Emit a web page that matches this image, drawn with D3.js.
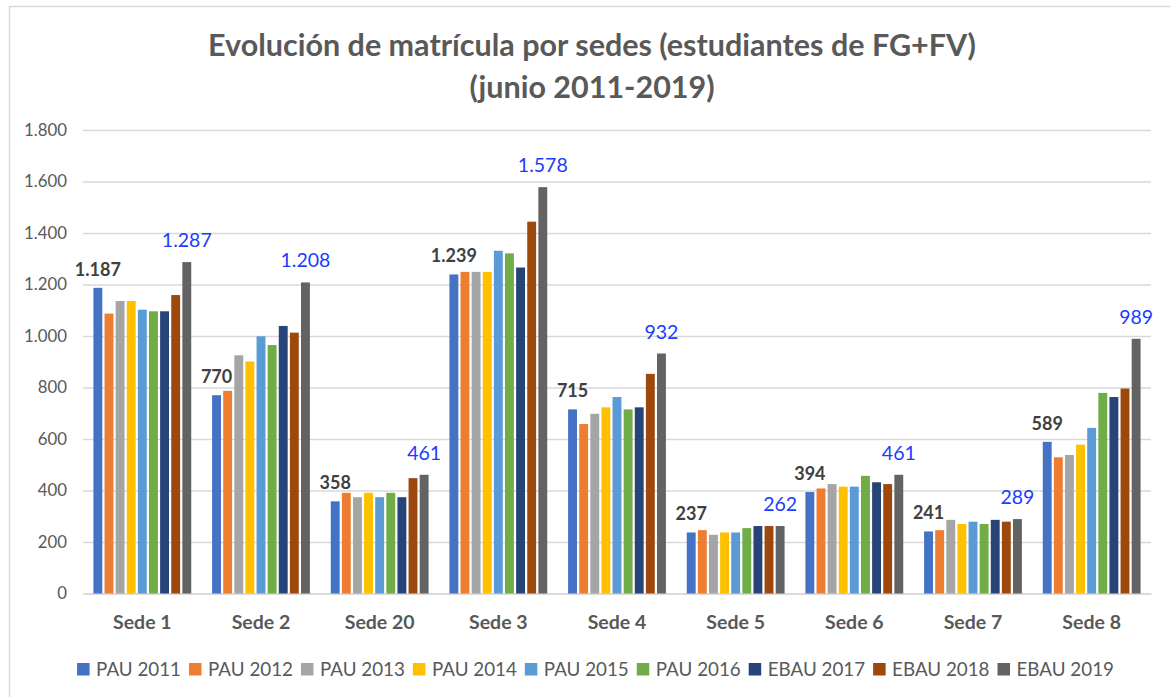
<!DOCTYPE html>
<html>
<head>
<meta charset="utf-8">
<script src="https://cdn.jsdelivr.net/npm/d3@7"></script>
<style>
  html, body { margin: 0; padding: 0; background: #fff; }
  svg { display: block; font-family: Lato, "Open Sans", sans-serif; }
</style>
</head>
<body>
<svg id="chart" width="1170" height="697"></svg>
<script>
const sedes = ["Sede 1", "Sede 2", "Sede 20", "Sede 3", "Sede 4", "Sede 5", "Sede 6", "Sede 7", "Sede 8"];
const series = ["PAU 2011", "PAU 2012", "PAU 2013", "PAU 2014", "PAU 2015", "PAU 2016", "EBAU 2017", "EBAU 2018", "EBAU 2019"];
const colors = ["#4472C4", "#ED7D31", "#A5A5A5", "#FFC000", "#5B9BD5", "#70AD47", "#264478", "#9E480E", "#636363"];

// one array per year, values in sede order
const pau2011 = [1187, 770, 358, 1239, 715, 237, 394, 241, 589];
const pau2012 = [1087, 787, 391, 1249, 658, 246, 408, 246, 529];
const pau2013 = [1136, 925, 374, 1249, 698, 228, 425, 286, 538];
const pau2014 = [1136, 901, 391, 1249, 723, 237, 415, 270, 578];
const pau2015 = [1102, 999, 374, 1331, 763, 237, 415, 279, 643];
const pau2016 = [1096, 965, 391, 1321, 715, 254, 457, 270, 779];
const ebau2017 = [1096, 1039, 374, 1266, 723, 262, 432, 286, 763];
const ebau2018 = [1159, 1013, 448, 1444, 853, 262, 425, 279, 796];
const ebau2019 = [1287, 1208, 461, 1578, 932, 262, 461, 289, 989];
const yTicks = [0, 200, 400, 600, 800, 1000, 1200, 1400, 1600, 1800];

const values = [pau2011, pau2012, pau2013, pau2014, pau2015, pau2016, ebau2017, ebau2018, ebau2019];
const data = sedes.map((s, i) => ({ sede: s, vals: series.map((k, j) => ({ key: k, i: j, v: values[j][i] })) }));

const es = d3.formatLocale({ decimal: ",", thousands: ".", grouping: [3], currency: ["", "€"] });
const fmt = es.format(",d");

const svg = d3.select("#chart");
const textColor = "#595959";
const gridColor = "#d9d9d9";

// chart frame (only top/left edges are visible in the picture)
svg.append("rect")
  .attr("x", 9.5).attr("y", 6.5)
  .attr("width", 1200).attr("height", 720)
  .attr("fill", "#fff")
  .attr("stroke", gridColor)
  .attr("stroke-width", 1.5);

const plot = { left: 83, right: 1151, top: 130, bottom: 593.5 };

// scales
const x0 = d3.scaleBand()
  .domain(sedes)
  .range([plot.left, plot.right])
  .paddingInner(0.157)
  .paddingOuter(0.0785);

const x1 = d3.scaleBand()
  .domain(series)
  .range([0, x0.bandwidth()])
  .paddingInner(0.2)
  .paddingOuter(0.1);

const y = d3.scaleLinear()
  .domain([0, 1800])
  .range([plot.bottom, plot.top]);

// title
const title = svg.append("g")
  .attr("fill", textColor)
  .attr("font-weight", "bold")
  .attr("text-anchor", "middle");
title.append("text")
  .attr("x", 592).attr("y", 56)
  .attr("font-size", 30.5)
  .text("Evolución de matrícula por sedes (estudiantes de FG+FV)");
title.append("text")
  .attr("x", 592).attr("y", 98)
  .attr("font-size", 30.5)
  .text("(junio 2011-2019)");

// y axis + gridlines
const yAxis = d3.axisLeft(y)
  .tickValues(yTicks)
  .tickSize(-(plot.right - plot.left))
  .tickPadding(16)
  .tickFormat(fmt);

const yg = svg.append("g")
  .attr("transform", `translate(${plot.left},0)`)
  .call(yAxis);
yg.select(".domain").remove();
yg.selectAll(".tick line").attr("stroke", gridColor).attr("stroke-width", 1.3);
yg.selectAll(".tick text")
  .attr("fill", textColor)
  .attr("font-size", 16.8)
  .attr("font-family", "Lato, sans-serif");

// x axis
const xAxis = d3.axisBottom(x0).tickSize(0).tickPadding(22);
const xg = svg.append("g")
  .attr("transform", `translate(0,${plot.bottom})`)
  .call(xAxis);
xg.select(".domain").attr("stroke", gridColor).attr("stroke-width", 1.3);
xg.selectAll(".tick text")
  .attr("fill", textColor)
  .attr("font-size", 19.5)
  .attr("font-weight", "bold")
  .attr("font-family", "Lato, sans-serif");

// bars
const groups = svg.append("g")
  .selectAll("g")
  .data(data)
  .join("g")
  .attr("transform", (d) => `translate(${x0(d.sede)},0)`);

groups.selectAll("rect")
  .data((d) => d.vals)
  .join("rect")
  .attr("x", (d) => x1(d.key))
  .attr("y", (d) => y(d.v))
  .attr("width", x1.bandwidth())
  .attr("height", (d) => y(0) - y(d.v))
  .attr("fill", (d) => colors[d.i]);

// labels: first year in bold grey, last year in blue
groups.append("text")
  .attr("x", (d) => x1(series[0]) + x1.bandwidth() / 2)
  .attr("y", (d) => y(d.vals[0].v) - 12)
  .attr("text-anchor", "middle")
  .attr("font-size", 18)
  .attr("font-weight", "bold")
  .attr("fill", "#404040")
  .text((d) => fmt(d.vals[0].v));

groups.append("text")
  .attr("x", (d) => x1(series[8]) + x1.bandwidth() / 2)
  .attr("y", (d) => y(d.vals[8].v) - 15)
  .attr("text-anchor", "middle")
  .attr("font-size", 19.5)
  .attr("fill", "#1a3cff")
  .text((d) => fmt(d.vals[8].v));

// legend, laid out from measured text widths and centred
const legend = svg.append("g");
const items = legend.selectAll("g")
  .data(series)
  .join("g");
items.append("rect")
  .attr("width", 12.5).attr("height", 12.5)
  .attr("y", 663)
  .attr("fill", (d, i) => colors[i]);
items.append("text")
  .attr("x", 19)
  .attr("y", 676)
  .attr("font-size", 18.8)
  .attr("fill", textColor)
  .text((d) => d);

let cursor = 0;
const offsets = [];
items.each(function () {
  offsets.push(cursor);
  cursor += 19 + this.querySelector("text").getComputedTextLength() + 8;
});
const total = cursor - 8;
const start = 595.5 - total / 2;
items.attr("transform", (d, i) => `translate(${start + offsets[i]},0)`);
</script>
</body>
</html>
